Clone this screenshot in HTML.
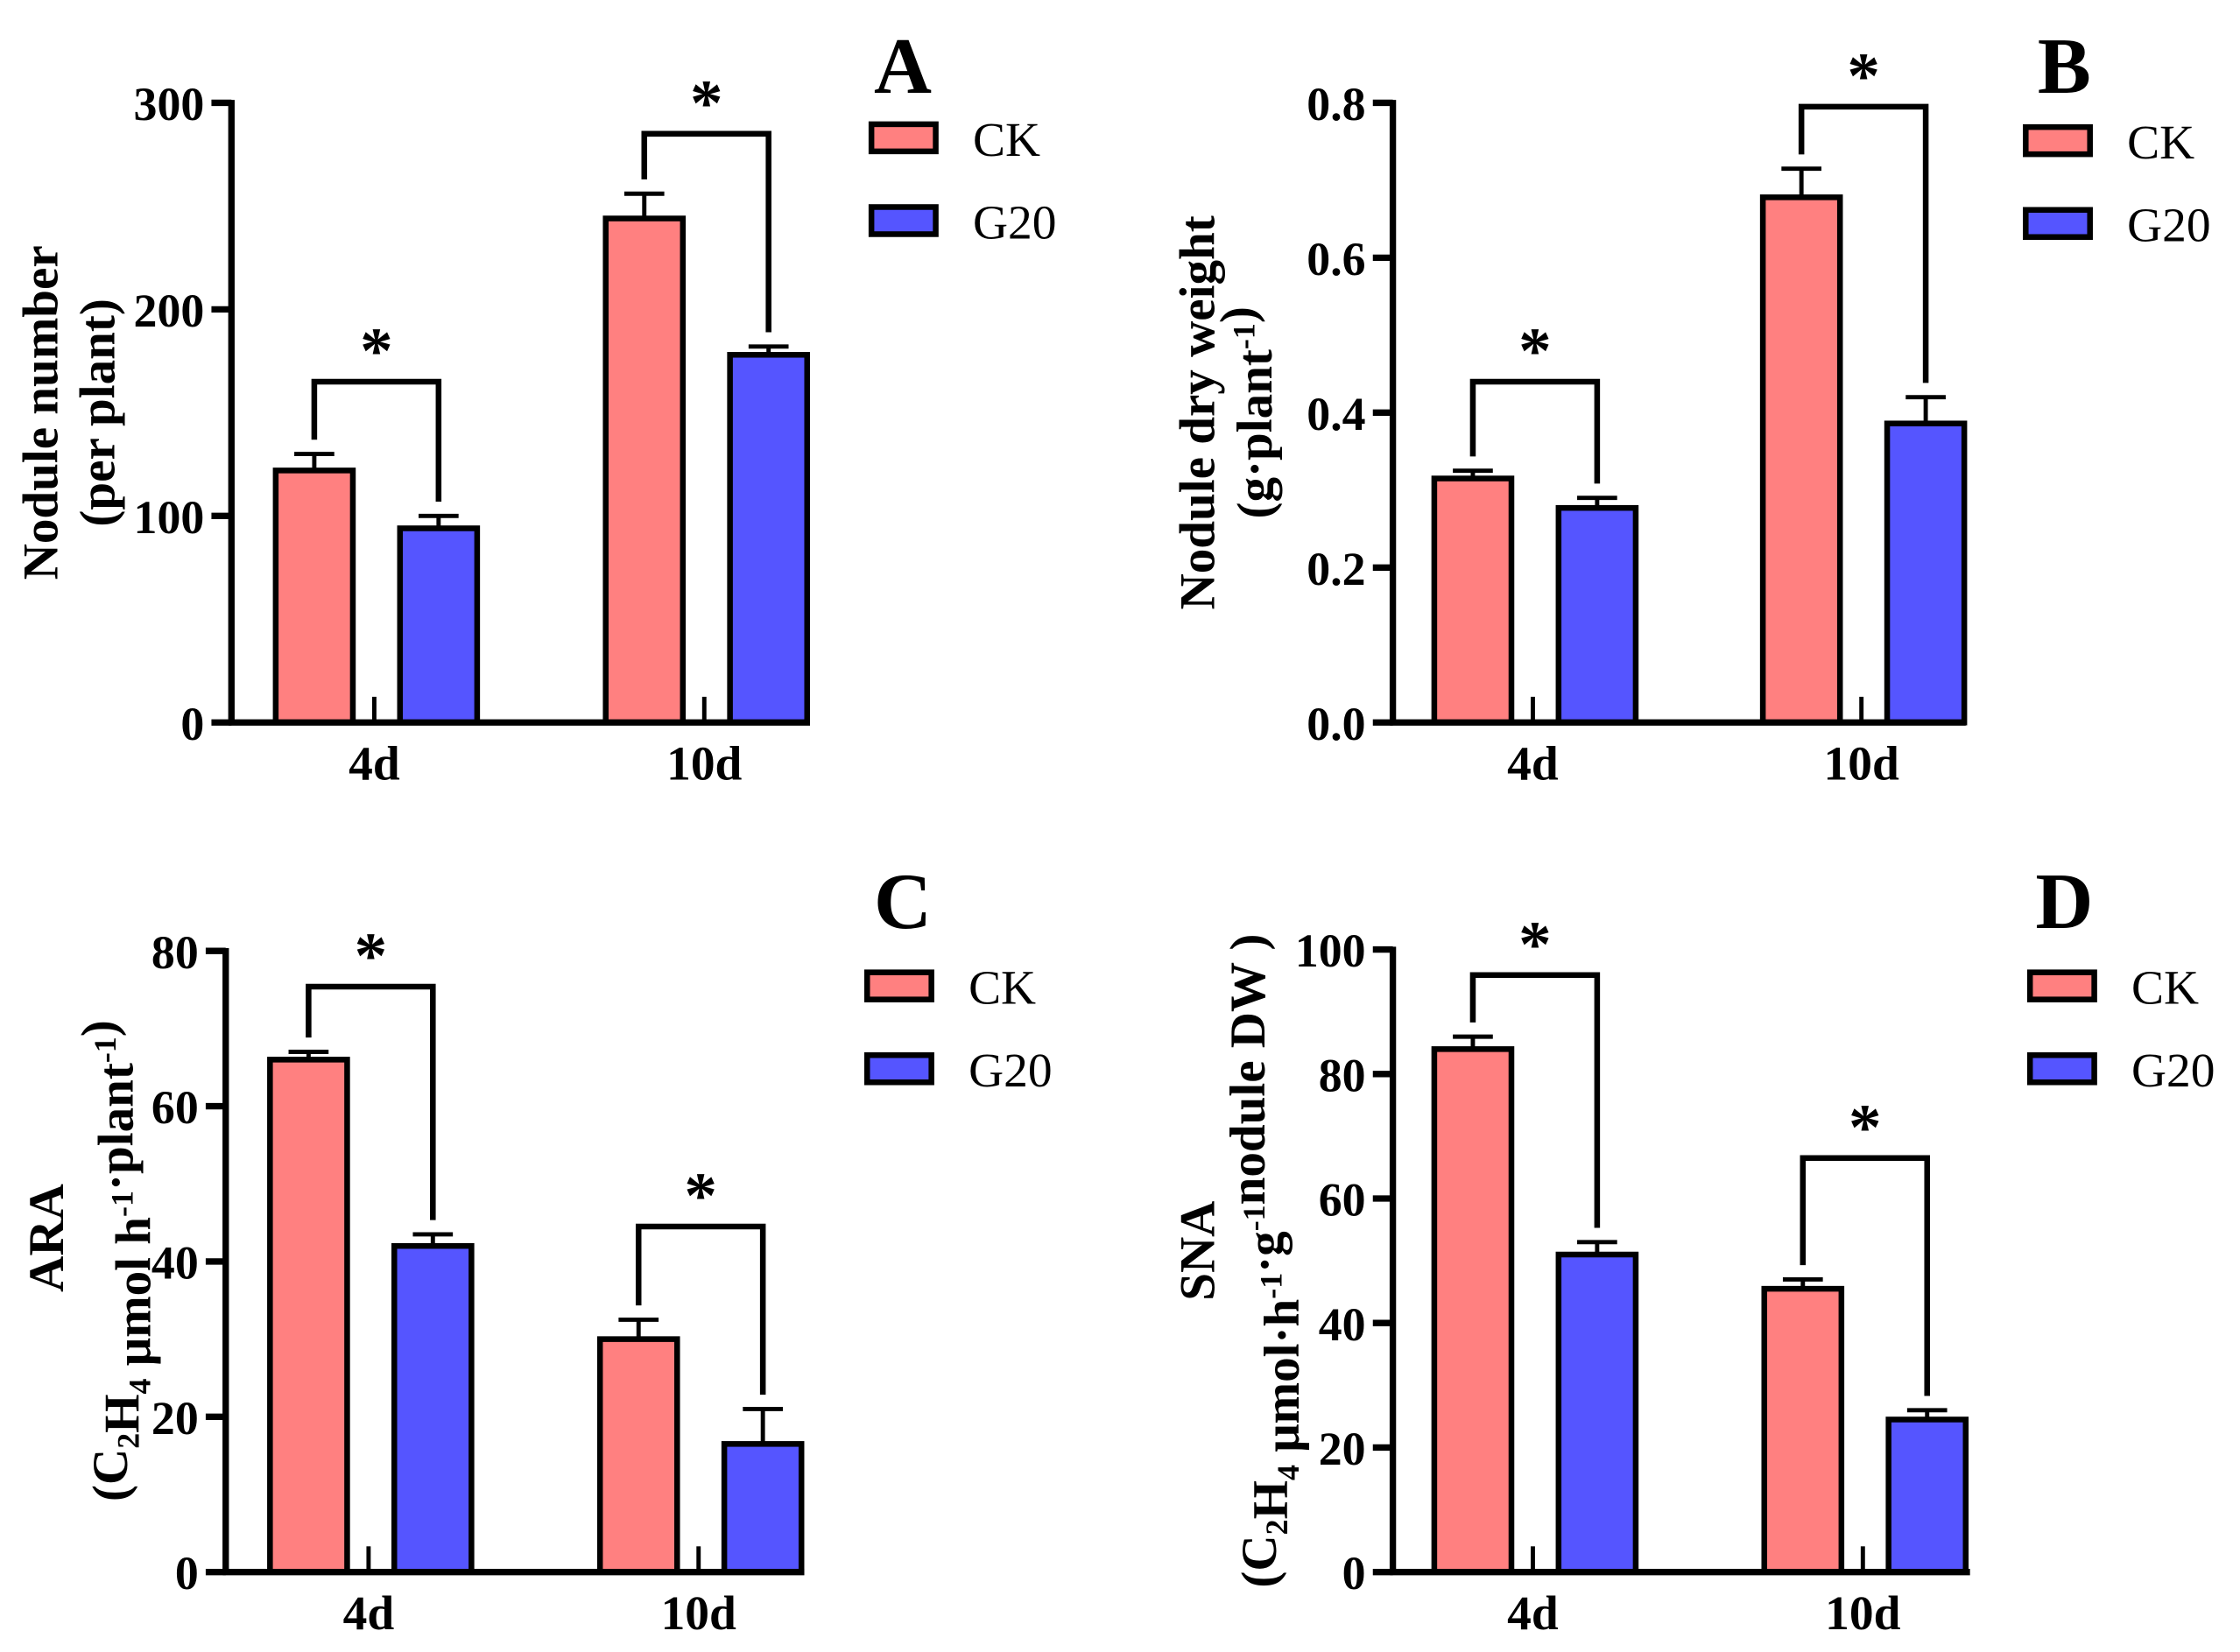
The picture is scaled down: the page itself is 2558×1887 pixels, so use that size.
<!DOCTYPE html>
<html><head><meta charset="utf-8"><style>html,body{margin:0;padding:0;background:#fff}svg{display:block}text{font-family:"Liberation Serif",serif;}</style></head>
<body>
<svg id="fig" xmlns="http://www.w3.org/2000/svg" width="2558" height="1887" viewBox="0 0 1568 1157" preserveAspectRatio="none"></svg>
<script>
const groups = ["4d","10d"];
const seriesNames = ["CK","G20"];
// Panel A
const aCK = [122, 244], aCKerr = [8, 12], aG20 = [94, 178], aG20err = [6, 4], aBracket = [165, 285], aTicks = [0,100,200,300];
// Panel B
const bCK = [0.315, 0.678], bCKerr = [0.01, 0.037], bG20 = [0.277, 0.386], bG20err = [0.013, 0.034], bBracket = [0.44, 0.795], bTicks = ["0.0","0.2","0.4","0.6","0.8"];
// Panel C
const cCK = [66, 30], cCKerr = [1, 2.5], cG20 = [42, 16.5], cG20err = [1.5, 4.5], cBracket = [75.4, 44.5], cTicks = [0,20,40,60,80];
// Panel D
const dCK = [84, 45.5], dCKerr = [2, 1.5], dG20 = [51, 24.5], dG20err = [2, 1.5], dBracket = [95.9, 66.5], dTicks = [0,20,40,60,80,100];

const NS="http://www.w3.org/2000/svg";
const svg=document.getElementById('fig');
function mk(tag,attrs,parent){const e=document.createElementNS(NS,tag);for(const k in attrs)e.setAttribute(k,attrs[k]);(parent||svg).appendChild(e);return e;}

function panel(p){
  const g=mk('g',{});
  
  
  const maxV=parseFloat(p.ticks[p.ticks.length-1]);
  const y=v=>p.y0-(v/maxV)*(p.y0-p.yTop);
  const cols=["#FF8080","#5555FF"];
  const data=[p.ck,p.g20], errs=[p.ckErr,p.g20Err];
  const bw=54;
  for(let gi=0;gi<groups.length;gi++){
    const gc=p.gx[gi];
    const xs=[gc-69,gc+18];
    for(let s=0;s<2;s++){
      const v=data[s][gi], top=y(v), cx=xs[s]+bw/2;
      const eb=mk('line',{x1:cx,x2:cx,y1:top,y2:y(v+errs[s][gi]),stroke:'#000','stroke-width':3},g);
      
      
      mk('line',{x1:cx-14,x2:cx+14,y1:y(v+errs[s][gi]),y2:y(v+errs[s][gi]),stroke:'#000','stroke-width':3},g);
      const r=mk('rect',{x:xs[s],y:top,width:bw,height:p.y0-top,fill:cols[s],stroke:'#000','stroke-width':4},g);
      
      
    }
    const bt=y(p.bracket[gi]);
    const lx=xs[0]+bw/2, rx=xs[1]+bw/2;
    const ly=y(p.ck[gi]+p.ckErr[gi])-10, ry=y(p.g20[gi]+p.g20Err[gi])-10;
    const br=mk('path',{d:`M${lx},${ly}V${bt}H${rx}V${ry}`,fill:'none',stroke:'#000','stroke-width':4},g);
    
    
    const st=mk('text',{x:(lx+rx)/2,y:bt-6,'font-size':46,'font-weight':'bold','text-anchor':'middle'},g);
    st.textContent='*';
    
    
    mk('line',{x1:gc,x2:gc,y1:p.y0-18,y2:p.y0,stroke:'#000','stroke-width':3},g);
    const xl=mk('text',{x:gc,y:p.y0+40,'font-size':34,'font-weight':'bold','text-anchor':'middle'},g);
    xl.textContent=groups[gi];
    
    
  }
  const ya=mk('line',{x1:p.x0,x2:p.x0,y1:p.yTop-2,y2:p.y0+2,stroke:'#000','stroke-width':4.5},g);
  
  
  const xa=mk('line',{x1:p.x0-2,x2:p.xEnd,y1:p.y0,y2:p.y0,stroke:'#000','stroke-width':4.5},g);
  
  
  p.ticks.forEach(t=>{
    const ty=y(parseFloat(t));
    mk('line',{x1:p.x0-14,x2:p.x0,y1:ty,y2:ty,stroke:'#000','stroke-width':4.5},g);
    const tl=mk('text',{x:p.x0-19,y:ty+12,'font-size':33,'font-weight':'bold','text-anchor':'end'},g);
    tl.textContent=t;
    
    
  });
  p.titles.forEach((tt,i)=>{
    const t=mk('text',{transform:`translate(${tt.x},${tt.cy}) rotate(-90)`,'font-size':tt.fs||35,'font-weight':'bold','text-anchor':'middle'},g);
    t.innerHTML=tt.html;
    
    
  });
  const L=mk('text',{x:p.letter[0],y:p.letter[1],'font-size':56,'font-weight':'bold','text-anchor':'middle'},g);
  L.textContent=p.id;
  
  
  for(let s=0;s<2;s++){
    const ly=p.leg[1]+s*58;
    const r=mk('rect',{x:p.leg[0],y:ly,width:45,height:19,fill:cols[s],stroke:'#000','stroke-width':4},g);
    
    
    const t=mk('text',{x:p.leg[0]+71,y:ly+22,'font-size':34},g);
    t.textContent=seriesNames[s];
    
    
  }
}
const sup=s=>`<tspan dy="-12" font-size="22">${s}</tspan><tspan dy="12"></tspan>`;
const sub=s=>`<tspan dy="8" font-size="22">${s}</tspan><tspan dy="-8"></tspan>`;
panel({id:'A',x0:162,y0:506,yTop:72,xEnd:567,gx:[262,493],ck:aCK,ckErr:aCKerr,g20:aG20,g20Err:aG20err,bracket:aBracket,ticks:aTicks,
  titles:[{x:40,cy:289,html:'Nodule number'},{x:80,cy:289,html:'(per plant)'}],letter:[632,65],leg:[610,87]});
panel({id:'B',x0:975,y0:506,yTop:72,xEnd:1376,gx:[1073,1303],ck:bCK,ckErr:bCKerr,g20:bG20,g20Err:bG20err,bracket:bBracket,ticks:bTicks,
  titles:[{x:850,cy:289,html:'Nodule dry weight'},{x:890,cy:289,html:'(g·plant'+sup('-1')+')'}],letter:[1445,65],leg:[1418,89]});
panel({id:'C',x0:158,y0:1101,yTop:666,xEnd:563,gx:[258,489],ck:cCK,ckErr:cCKerr,g20:cG20,g20Err:cG20err,bracket:cBracket,ticks:cTicks,
  titles:[{x:44,cy:867,html:'ARA'},{x:89,cy:883,html:'(C'+sub('2')+'H'+sub('4')+' μmol h'+sup('-1')+'·plant'+sup('-1')+')'}],letter:[632,650],leg:[607,681]});
panel({id:'D',x0:975,y0:1101,yTop:665,xEnd:1379,gx:[1073,1304],ck:dCK,ckErr:dCKerr,g20:dG20,g20Err:dG20err,bracket:dBracket,ticks:dTicks,
  titles:[{x:850,cy:876,html:'SNA'},{x:893,cy:883,html:'(C'+sub('2')+'H'+sub('4')+' μmol·h'+sup('-1')+'·g'+sup('-1')+'nodule DW )'}],letter:[1445,650],leg:[1421,681]});
</script>
</body></html>
